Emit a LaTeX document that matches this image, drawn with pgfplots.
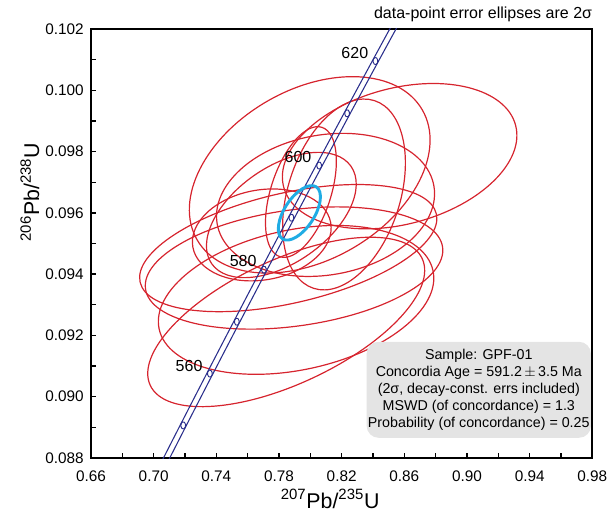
\documentclass[border=0pt]{standalone}
\usepackage{pgfplots}
\pgfplotsset{compat=1.18}
\usepackage{fontspec}
\setmainfont{Liberation Sans}
\definecolor{ellred}{RGB}{214,36,46}
\definecolor{conc}{RGB}{42,46,140}
\definecolor{agebl}{RGB}{32,172,228}
\definecolor{boxgray}{RGB}{228,228,228}
\tikzset{ell/.style={ellred, line width=0.9pt}}
\begin{document}
\begin{tikzpicture}
\begin{axis}[
  scale only axis, width=376pt, height=321.75pt,
  xmin=0.66, xmax=0.98, ymin=0.088, ymax=0.102,
  xtick={0.66,0.70,0.74,0.78,0.82,0.86,0.90,0.94,0.98},
  minor xtick={0.68,0.72,0.76,0.80,0.84,0.88,0.92,0.96},
  ytick={0.088,0.090,0.092,0.094,0.096,0.098,0.100,0.102},
  minor ytick={0.089,0.091,0.093,0.095,0.097,0.099,0.101},
  tick pos=left, tick align=inside,
  major tick length=3.5pt, minor tick length=3.5pt,
  every tick/.style={black, line width=1pt},
  axis line style={line width=1.3pt},
  /pgf/number format/assume math mode=true,
  xticklabel style={/pgf/number format/.cd, fixed, fixed zerofill, precision=2, /tikz/.cd, yshift=-6pt},
  yticklabel style={/pgf/number format/.cd, fixed, fixed zerofill, precision=3, /tikz/.cd, xshift=-2pt},
  ticklabel style={font=\fontsize{11.5}{13}\selectfont},
  scaled ticks=false,
  xlabel={\textsuperscript{207}Pb/\textsuperscript{235}U},
  ylabel={\textsuperscript{206}Pb/\textsuperscript{238}U},
  every axis x label/.style={at={(axis description cs:0.477,-0.095)}, anchor=center, font=\fontsize{16}{18}\selectfont},
  every axis y label/.style={at={(axis description cs:-0.122,0.62)}, anchor=center, rotate=90, font=\fontsize{16}{18}\selectfont},
  clip=true,
]
% red data-point error ellipses (centre in data units, semi-axes in pt, tilt in degrees)
\draw[ell, rotate around={30:(axis cs:0.7996,0.09724)}] (axis cs:0.7996,0.09724) ellipse [x radius=97.5pt, y radius=63.75pt];
\draw[ell, rotate around={15:(axis cs:0.8570,0.09785)}] (axis cs:0.8570,0.09785) ellipse [x radius=90pt, y radius=51pt];
\draw[ell, rotate around={13:(axis cs:0.7859,0.09485)}] (axis cs:0.7859,0.09485) ellipse [x radius=114pt, y radius=41.25pt];
\draw[ell, rotate around={8:(axis cs:0.7896,0.09420)}] (axis cs:0.7896,0.09420) ellipse [x radius=112.5pt, y radius=43.5pt];
\draw[ell, rotate around={25:(axis cs:0.7846,0.09244)}] (axis cs:0.7846,0.09244) ellipse [x radius=112.5pt, y radius=46.5pt];
\draw[ell, rotate around={12:(axis cs:0.7909,0.09316)}] (axis cs:0.7909,0.09316) ellipse [x radius=105pt, y radius=52.5pt];
\draw[ell, rotate around={72:(axis cs:0.8215,0.09660)}] (axis cs:0.8215,0.09660) ellipse [x radius=74pt, y radius=42pt];
\draw[ell, rotate around={72:(axis cs:0.7940,0.09668)}] (axis cs:0.7940,0.09668) ellipse [x radius=51pt, y radius=22.5pt];
\draw[ell, rotate around={35:(axis cs:0.7815,0.09593)}] (axis cs:0.7815,0.09593) ellipse [x radius=63.75pt, y radius=36pt];
\draw[ell, rotate around={10:(axis cs:0.7690,0.09528)}] (axis cs:0.7690,0.09528) ellipse [x radius=52.5pt, y radius=33.75pt];
\draw[ell, rotate around={10:(axis cs:0.8097,0.09626)}] (axis cs:0.8097,0.09626) ellipse [x radius=82.5pt, y radius=52.5pt];
% concordia band
\addplot[conc, line width=0.8pt, smooth] coordinates {
 (0.70003,0.087376) (0.71687,0.089064) (0.73388,0.090755) (0.75106,0.092448) (0.76841,0.094144)
 (0.78594,0.095843) (0.80363,0.097544) (0.82150,0.099248) (0.83955,0.100955) (0.85777,0.102664)};
\addplot[conc, line width=0.8pt, smooth] coordinates {
 (0.70403,0.087376) (0.72087,0.089064) (0.73788,0.090755) (0.75506,0.092448) (0.77241,0.094144)
 (0.78994,0.095843) (0.80763,0.097544) (0.82550,0.099248) (0.84355,0.100955) (0.86177,0.102664)};
\addplot[conc, only marks, mark=o, mark size=1.8pt, mark options={line width=0.7pt, fill=white, yscale=1.5, rotate=-30}] coordinates {
 (0.71887,0.089064) (0.73588,0.090755) (0.75306,0.092448) (0.77041,0.094144)
 (0.78794,0.095843) (0.80563,0.097544) (0.82350,0.099248) (0.84155,0.100955)};
% concordia age ellipse
\draw[agebl, line width=2.2pt, rotate around={57:(axis cs:0.7930,0.09600)}] (axis cs:0.7930,0.09600) ellipse [x radius=23.25pt, y radius=11.25pt];
% age labels
\node[font=\fontsize{12}{14}\selectfont] at (axis cs:0.8284,0.10122) {620};
\node[font=\fontsize{12}{14}\selectfont] at (axis cs:0.7921,0.09782) {600};
\node[font=\fontsize{12}{14}\selectfont] at (axis cs:0.7571,0.09443) {580};
\node[font=\fontsize{12}{14}\selectfont] at (axis cs:0.7226,0.09100) {560};
% result box
\node[fill=boxgray, rounded corners=9pt, minimum width=167pt, minimum height=72pt, align=center,
      font=\fontsize{10.7}{12.9}\selectfont, inner sep=1pt] at (axis description cs:0.7735,0.159)
 {Sample: GPF-01\\ Concordia Age = 591.2\,$\pm$\,3.5 Ma\\ (2σ, decay-const. errs included)\\ MSWD (of concordance) = 1.3\\ Probability (of concordance) = 0.25};
\coordinate (ll) at (rel axis cs:0,0);
\coordinate (ur) at (rel axis cs:1,1);
\end{axis}
\node[anchor=east, font=\fontsize{12}{14}\selectfont, inner sep=0pt] at ([yshift=11pt]ur) {data-point error ellipses are 2σ};
\pgfresetboundingbox
\path ([shift={(-68.25pt,-39.75pt)}]ll) rectangle ([shift={(11.75pt,21.75pt)}]ur);
\end{tikzpicture}
\end{document}
